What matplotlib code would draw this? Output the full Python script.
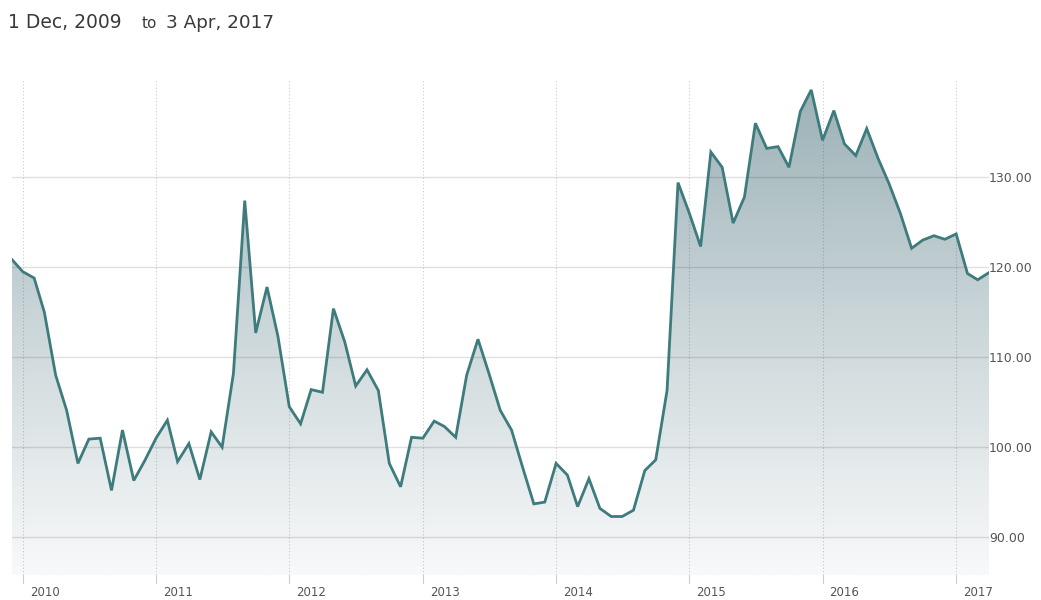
import matplotlib
matplotlib.use("Agg")
import matplotlib.pyplot as plt
import matplotlib.dates as mdates
import matplotlib.transforms as mtrans
from matplotlib.colors import LinearSegmentedColormap
import numpy as np
import pandas as pd

title_from = "1 Dec, 2009"
title_to = "to"
title_end = "3 Apr, 2017"
start_date = "2009-12-01"
values = [
    120.9, 119.5, 118.8, 115.0, 108.0, 104.1, 98.2, 100.9, 101.0, 95.2,
    101.9, 96.3, 98.5, 101.0, 103.0, 98.4, 100.4, 96.4, 101.7, 100.0,
    108.2, 127.4, 112.7, 117.8, 112.3, 104.5, 102.6, 106.4, 106.1, 115.4,
    111.7, 106.8, 108.6, 106.3, 98.2, 95.6, 101.1, 101.0, 102.9, 102.3,
    101.1, 108.0, 112.0, 108.2, 104.1, 101.9, 97.8, 93.7, 93.9, 98.2,
    96.9, 93.4, 96.5, 93.2, 92.3, 92.3, 93.0, 97.4, 98.6, 106.3,
    129.4, 126.0, 122.3, 132.8, 131.1, 124.9, 127.8, 136.0, 133.2, 133.4,
    131.1, 137.3, 139.7, 134.1, 137.4, 133.7, 132.4, 135.4, 132.1, 129.3,
    126.0, 122.1, 123.0, 123.5, 123.1, 123.7, 119.3, 118.6, 119.4,
]
years = [2010, 2011, 2012, 2013, 2014, 2015, 2016, 2017]
yticks = [90, 100, 110, 120, 130]
ylim = (85.8, 140.8)

dates = pd.date_range(start_date, periods=len(values), freq="MS")
x = mdates.date2num(dates.to_pydatetime())
y = np.array(values)

W, H = 1041, 600
fig = plt.figure(figsize=(W / 100, H / 100), dpi=100)
left, right, top, bottom = 11.5, 989, 80, 575
ax = fig.add_axes([left / W, 1 - bottom / H, (right - left) / W, (bottom - top) / H])

ax.set_xlim(x[0], x[-1])
ax.set_ylim(*ylim)

# gradient fill
poly = ax.fill_between(x, y, ylim[0], color="none", lw=0)
cmap = LinearSegmentedColormap.from_list("g", ["#f8f9fa", "#ccd7da", "#9ab0b5"])
grad = np.linspace(0, 1, 256).reshape(-1, 1)
im = ax.imshow(grad, cmap=cmap, aspect="auto", origin="lower",
               extent=[x[0], x[-1], ylim[0], ylim[1]], zorder=1)
path = poly.get_paths()[0]
im.set_clip_path(path, transform=ax.transData)

ax.plot(x, y, color="#3e7b7d", lw=2.0, zorder=3, solid_joinstyle="miter")

# grid
for v in yticks:
    ax.axhline(v, color=(0, 0, 0, 0.12), lw=1.0, zorder=2)
year_x = [mdates.date2num(pd.Timestamp(f"{yr}-01-01").to_pydatetime()) for yr in years]
for xx in year_x:
    ax.axvline(xx, color=(0, 0, 0, 0.2), lw=0.8, ls=(0, (1, 2)), zorder=2)
    ax.plot([xx, xx], [0, -0.016], transform=ax.get_xaxis_transform(), clip_on=False,
            color=(0, 0, 0, 0.2), lw=0.8)

for spine in ax.spines.values():
    spine.set_visible(False)
ax.set_xticks([])
ax.yaxis.tick_right()
ax.set_yticks(yticks)
ax.set_yticklabels([f"{v:.2f}" for v in yticks])
ax.tick_params(axis="y", length=0, pad=0, labelsize=9, labelcolor="#555555")

off = mtrans.offset_copy(ax.get_xaxis_transform(), fig=fig, x=7, y=-17, units="dots")
for xx, yr in zip(year_x, years):
    ax.text(xx, 0, str(yr), transform=off, ha="left", va="center",
            fontsize=8.5, color="#555555")

ty = 1 - 28 / H
fig.text(8 / W, ty, title_from, ha="left", va="baseline", fontsize=13.5, color="#3a3a3a")
fig.text(142 / W, ty, title_to, ha="left", va="baseline", fontsize=11, color="#3a3a3a")
fig.text(166 / W, ty, title_end, ha="left", va="baseline", fontsize=13.2, color="#3a3a3a")

fig.savefig("out.png", dpi=100)
